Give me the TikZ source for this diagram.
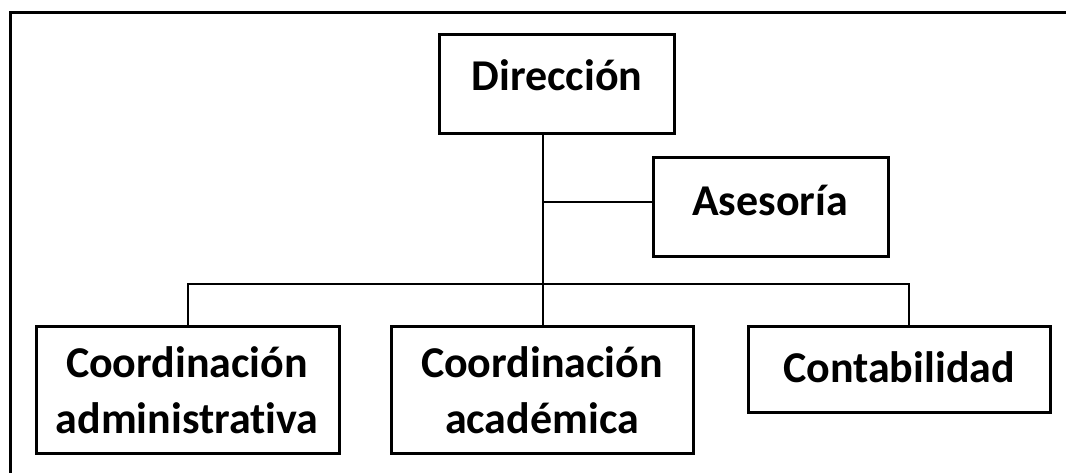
\documentclass[tikz,border=0pt]{standalone}
\usepackage{fontspec}
\setmainfont[Ligatures=NoCommon]{Carlito}
\begin{document}
\begin{tikzpicture}[x=1pt,y=-1pt,
  box/.style={draw,line width=3pt},
  lbl/.style={font=\bfseries\fontsize{44}{56}\selectfont,align=center,inner sep=0pt},
  conn/.style={line width=1.6pt},
  frame/.style={line width=3pt}]
\useasboundingbox (0,0) rectangle (1066,473);
% frame
\coordinate (fA) at (10,473);
\coordinate (fB) at (10,13);
\coordinate (fC) at (1066,13);
\draw[frame] (fA) -- (fB) -- (fC);
% boxes
\draw[box] (439,35) rectangle (674,134);
\node[lbl] (dir) at (557,75) {Dirección};
\coordinate (dirB) at (543,134);
\draw[box] (653,158) rectangle (888,257);
\node[lbl] (ase) at (770,200) {Asesoría};
\coordinate (aseL) at (653,202);
\draw[box] (36,326) rectangle (339,453);
\node[lbl] (ca) at (187,390) {Coordinación\\administrativa};
\draw[box] (391,326) rectangle (693,453);
\node[lbl] (cac) at (542,390) {Coordinación\\académica};
\draw[box] (748,326) rectangle (1050,412);
\node[lbl] (con) at (899,367) {Contabilidad};
% connectors
\coordinate (j1) at (543,202);
\coordinate (j2) at (543,284);
\coordinate (hl) at (188,284);
\coordinate (hr) at (909,284);
\coordinate (caT) at (188,326);
\coordinate (cacT) at (543,326);
\coordinate (conT) at (909,326);
\draw[conn] (dirB) -- (j1) -- (j2) -- (cacT);
\draw[conn] (j1) -- (aseL);
\draw[conn] (caT) -- (hl) -- (hr) -- (conT);
\end{tikzpicture}
\end{document}
